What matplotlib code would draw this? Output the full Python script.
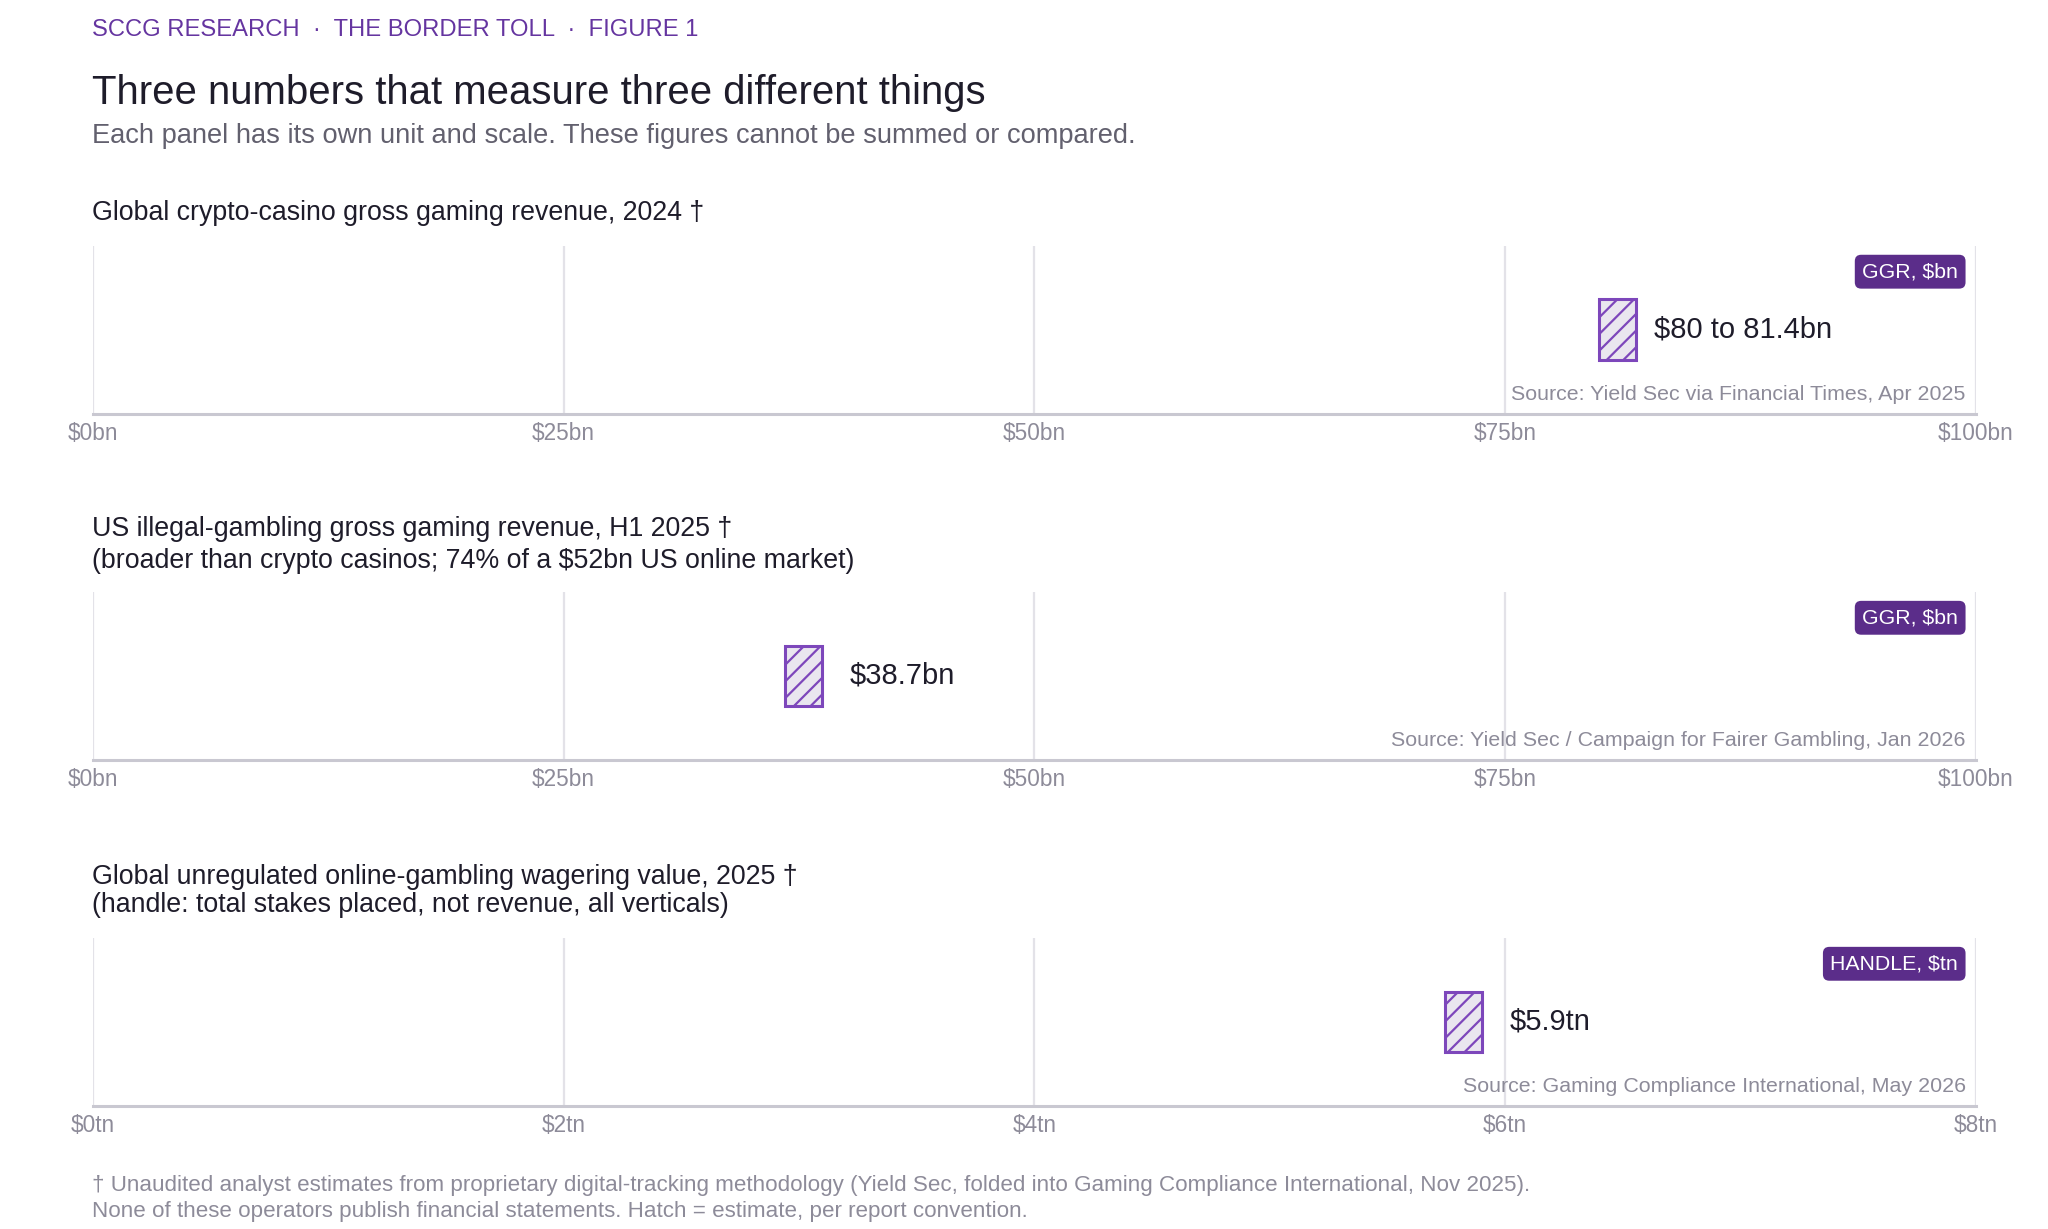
import matplotlib
matplotlib.use("Agg")
import matplotlib.pyplot as plt
from matplotlib.patches import Rectangle

plt.rcParams['font.family'] = ['Liberation Sans', 'DejaVu Sans']
plt.rcParams['hatch.linewidth'] = 1.6

# ---- data ----
panel_titles = [
    "Global crypto-casino gross gaming revenue, 2024 \u2020",
    "US illegal-gambling gross gaming revenue, H1 2025 \u2020\n(broader than crypto casinos; 74% of a $52bn US online market)",
    "Global unregulated online-gambling wagering value, 2025 \u2020\n(handle: total stakes placed, not revenue, all verticals)",
]
value_low = [80.0, 38.7, 5.9]
value_high = [81.4, 38.7, 5.9]
value_labels = ["$80 to 81.4bn", "$38.7bn", "$5.9tn"]
axis_max = [100, 100, 8]
tick_values = [[0, 25, 50, 75, 100], [0, 25, 50, 75, 100], [0, 2, 4, 6, 8]]
tick_labels = [["$0bn", "$25bn", "$50bn", "$75bn", "$100bn"],
               ["$0bn", "$25bn", "$50bn", "$75bn", "$100bn"],
               ["$0tn", "$2tn", "$4tn", "$6tn", "$8tn"]]
badges = ["GGR, $bn", "GGR, $bn", "HANDLE, $tn"]
sources = ["Source: Yield Sec via Financial Times, Apr 2025",
           "Source: Yield Sec / Campaign for Fairer Gambling, Jan 2026",
           "Source: Gaming Compliance International, May 2026"]

header = "SCCG RESEARCH  \u00b7  THE BORDER TOLL  \u00b7  FIGURE 1"
title = "Three numbers that measure three different things"
subtitle = "Each panel has its own unit and scale. These figures cannot be summed or compared."
footer = ("\u2020 Unaudited analyst estimates from proprietary digital-tracking methodology "
          "(Yield Sec, folded into Gaming Compliance International, Nov 2025).\n"
          "None of these operators publish financial statements. Hatch = estimate, per report convention.")

PURPLE = "#5b2d8a"
HEADER_PURPLE = "#6535a0"
MARK_EDGE = "#7d47bb"
MARK_FACE = "#e9e6ef"
DARK = "#1e1c2a"
GREY = "#62606e"
LIGHT_GREY = "#8d8b99"
GRID = "#e3e2e8"
AXLINE = "#c9c8d1"

W, H = 2048, 1229
fig = plt.figure(figsize=(W / 100, H / 100), dpi=100)
fig.patch.set_facecolor("white")

def fx(px):
    return px / W

def fy(py):
    return 1 - py / H

X0, X1 = 92.7, 1976
panel_tops = [245.6, 591.7, 937.7]
panel_bottoms = [414, 760, 1106]
title_y = [[213], [529, 561], [877, 905]]

fig.text(fx(92), fy(30), header, color=HEADER_PURPLE, fontsize=17.1, va="center", ha="left")
fig.text(fx(92), fy(93), title, color=DARK, fontsize=28.9, va="center", ha="left")
fig.text(fx(92), fy(136), subtitle, color=GREY, fontsize=19.6, va="center", ha="left")

for i in range(3):
    top, bot = panel_tops[i], panel_bottoms[i]
    ax = fig.add_axes([fx(X0), fy(bot), fx(X1 - X0), (bot - top) / H])
    ax.set_xlim(0, axis_max[i])
    ax.set_ylim(0, 1)
    ax.set_yticks([])
    ax.set_xticks(tick_values[i])
    ax.set_xticklabels(tick_labels[i])
    ax.tick_params(axis="x", length=0, pad=5.5, labelsize=16.3, labelcolor=LIGHT_GREY)
    for s in ["top", "left", "right"]:
        ax.spines[s].set_visible(False)
    ax.spines["bottom"].set_color(AXLINE)
    ax.spines["bottom"].set_linewidth(2.2)
    for t in tick_values[i]:
        ax.axvline(t, color=GRID, lw=1.6, zorder=0)

    # title lines
    for j, line in enumerate(panel_titles[i].split("\n")):
        fig.text(fx(92), fy(title_y[i][j]), line, color=DARK, fontsize=19.3, va="center", ha="left")

    # marker: min width in pixels
    ax_px = X1 - X0
    min_w = 37 / ax_px * axis_max[i]
    lo, hi = value_low[i], value_high[i]
    if hi > lo:
        left = lo
        width = max(hi - lo, min_w)
    else:
        width = min_w
        left = hi - width
    rect = Rectangle((left, 0.32), width, 0.36, facecolor=MARK_FACE, edgecolor=MARK_EDGE,
                     lw=2.2, hatch="//", zorder=3)
    ax.add_patch(rect)
    ax.annotate(value_labels[i], xy=(hi, 0.5), xytext=(20.5, 0), textcoords="offset points",
                va="center", ha="left", fontsize=21, color=DARK)

    # badge
    ax.text(0.9905, 0.845, badges[i], transform=ax.transAxes, ha="right", va="center",
            fontsize=15.3, color="white",
            bbox=dict(boxstyle="round,pad=0.35,rounding_size=0.3", facecolor=PURPLE, edgecolor="none"))
    # source
    ax.text(0.9945, 0.115, sources[i], transform=ax.transAxes, ha="right", va="center",
            fontsize=15.4, color=LIGHT_GREY)

fig.text(fx(92), fy(1186), footer.split("\n")[0], color=LIGHT_GREY, fontsize=16.1, va="center", ha="left")
fig.text(fx(92), fy(1212), footer.split("\n")[1], color=LIGHT_GREY, fontsize=16.1, va="center", ha="left")

fig.savefig("out.png", dpi=100, facecolor="white")
